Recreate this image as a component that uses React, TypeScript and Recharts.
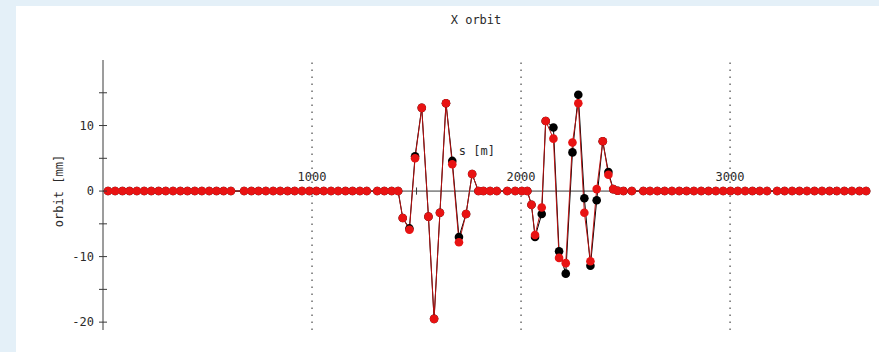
import React from 'react';
import { ComposedChart, Line, XAxis, YAxis, ReferenceLine, ReferenceDot } from 'recharts';

// Longitudinal position of each monitor, s [m]
const positions = [
  24, 58, 93, 127, 162, 197, 231, 266, 300, 335, 370, 404, 439, 473, 508, 543, 577, 612,
  675, 710, 744, 779, 814, 848, 883, 917, 952, 987, 1021, 1056, 1091, 1125, 1160, 1194, 1229, 1262,
  1312, 1346, 1381, 1412,
  1434, 1466, 1493, 1525, 1557, 1584, 1612, 1641, 1671, 1703, 1737, 1766,
  1796, 1820, 1852, 1884, 1934, 1972, 2004, 2030,
  2050, 2067, 2099, 2118, 2155, 2182, 2214, 2246, 2274, 2303, 2332, 2362, 2391, 2418, 2441, 2462,
  2490, 2530, 2585, 2617, 2652, 2687, 2722, 2757, 2792, 2827, 2862, 2897, 2932, 2967, 3002, 3037,
  3072, 3107, 3142, 3177,
  3225, 3261, 3297, 3332, 3368, 3404, 3440, 3476, 3511, 3547, 3583, 3619, 3651,
];

// Black series (orbit [mm])
const orbitBlack = [
  0, 0, 0, 0, 0, 0, 0, 0, 0, 0, 0, 0, 0, 0, 0, 0, 0, 0,
  0, 0, 0, 0, 0, 0, 0, 0, 0, 0, 0, 0, 0, 0, 0, 0, 0, 0,
  0, 0, 0, 0,
  -4.1, -5.7, 5.3, 12.7, -3.9, -19.5, -3.3, 13.4, 4.6, -7.0, -3.5, 2.6,
  0, 0, 0, 0, 0, 0, 0, 0,
  -2.1, -7.0, -3.5, 10.7, 9.7, -9.2, -12.6, 5.9, 14.7, -1.1, -11.4, -1.4, 7.6, 2.9, 0.3, 0.05,
  0, 0, 0, 0, 0, 0, 0, 0, 0, 0, 0, 0, 0, 0, 0, 0,
  0, 0, 0, 0,
  0, 0, 0, 0, 0, 0, 0, 0, 0, 0, 0, 0, 0,
];

// Red series (orbit [mm])
const orbitRed = [
  0, 0, 0, 0, 0, 0, 0, 0, 0, 0, 0, 0, 0, 0, 0, 0, 0, 0,
  0, 0, 0, 0, 0, 0, 0, 0, 0, 0, 0, 0, 0, 0, 0, 0, 0, 0,
  0, 0, 0, 0,
  -4.1, -5.9, 5.0, 12.7, -3.9, -19.5, -3.3, 13.4, 4.1, -7.8, -3.5, 2.6,
  0, 0, 0, 0, 0, 0, 0, 0,
  -2.1, -6.7, -2.5, 10.7, 8.0, -10.2, -11.0, 7.4, 13.4, -3.3, -10.7, 0.3, 7.6, 2.5, 0.3, 0.05,
  0, 0, 0, 0, 0, 0, 0, 0, 0, 0, 0, 0, 0, 0, 0, 0,
  0, 0, 0, 0,
  0, 0, 0, 0, 0, 0, 0, 0, 0, 0, 0, 0, 0,
];

const xLabelTicks = [1000, 2000, 3000];
const xMinorTicks = [500, 1500, 2500, 3500];
const yTicks = [-20, -15, -10, -5, 0, 5, 10, 15];
const yLabeledTicks = [-20, -10, 0, 10];

const data = positions.map((s, i) => ({ s, black: orbitBlack[i], red: orbitRed[i] }));

const FONT = "'DejaVu Sans Mono', monospace";
const TEXT = '#2a2a2a';
const AXIS = '#3a3a3a';

const YTick = (props: any) => {
  const { x, y, payload } = props;
  const labeled = yLabeledTicks.includes(payload.value);
  return (
    <g>
      <line x1={x - 4} x2={x + 4} y1={y} y2={y} stroke={AXIS} strokeWidth={1} />
      {labeled && (
        <text x={x - 9} y={y} dy={4} textAnchor="end" fontFamily={FONT} fontSize={12} fill={TEXT}>
          {payload.value}
        </text>
      )}
    </g>
  );
};

const YLabel = (props: any) => {
  const cy = 191;
  const cx = 59;
  return (
    <text
      x={cx}
      y={cy}
      transform={`rotate(-90 ${cx} ${cy})`}
      textAnchor="middle"
      dominantBaseline="central"
      fontFamily={FONT}
      fontSize={12}
      fill={TEXT}
    >
      orbit [mm]
    </text>
  );
};

export default function App() {
  return (
    <div style={{ position: 'absolute', left: 0, top: 0, width: 879, height: 352, background: '#e4f0f8', overflow: 'hidden' }}>
      <div style={{ position: 'absolute', left: 16, top: 6, width: 863, height: 346, background: '#ffffff' }} />
      <div
        style={{
          position: 'absolute',
          left: 426,
          top: 12,
          width: 100,
          textAlign: 'center',
          fontFamily: FONT,
          fontSize: 12,
          lineHeight: '16px',
          color: TEXT,
        }}
      >
        X orbit
      </div>
      <div style={{ position: 'absolute', left: 0, top: 0 }}>
        <ComposedChart width={879} height={352} data={data} margin={{ top: 60, right: 11, bottom: 22, left: 0 }}>
          <XAxis dataKey="s" type="number" domain={[0, 3660]} hide />
          <YAxis
            type="number"
            domain={[-21.2, 20]}
            ticks={yTicks}
            interval={0}
            width={103}
            tickSize={0}
            tickMargin={0}
            tickLine={false}
            tick={<YTick />}
            axisLine={{ stroke: AXIS, strokeWidth: 1 }}
            label={<YLabel />}
          />
          {xLabelTicks.map((t) => (
            <ReferenceLine key={`g${t}`} x={t} stroke="#222" strokeWidth={1} strokeDasharray="1.5 5.5" />
          ))}
          <ReferenceLine y={0} stroke={AXIS} strokeWidth={1} />
          {[...xLabelTicks, ...xMinorTicks].map((t) => (
            <ReferenceLine
              key={`t${t}`}
              segment={[{ x: t, y: -0.55 }, { x: t, y: 0.55 }]}
              stroke={AXIS}
              strokeWidth={1}
            />
          ))}
          {xLabelTicks.map((t) => (
            <ReferenceDot
              key={`l${t}`}
              x={t}
              y={2.2}
              r={0}
              fill="none"
              stroke="none"
              label={{ value: String(t), position: 'center', fontFamily: FONT, fontSize: 12, fill: TEXT }}
            />
          ))}
          <ReferenceDot
            x={1789}
            y={6.1}
            r={0}
            fill="none"
            stroke="none"
            label={{ value: 's [m]', position: 'center', fontFamily: FONT, fontSize: 12, fill: TEXT }}
          />
          <Line
            type="linear"
            dataKey="black"
            stroke="#000000"
            strokeWidth={1}
            dot={{ r: 4.3, fill: '#000000', stroke: 'none' }}
            activeDot={false}
            isAnimationActive={false}
          />
          <Line
            type="linear"
            dataKey="red"
            stroke="#b81010"
            strokeWidth={1}
            dot={{ r: 4.3, fill: '#e81313', stroke: 'none' }}
            activeDot={false}
            isAnimationActive={false}
          />
        </ComposedChart>
      </div>
    </div>
  );
}
